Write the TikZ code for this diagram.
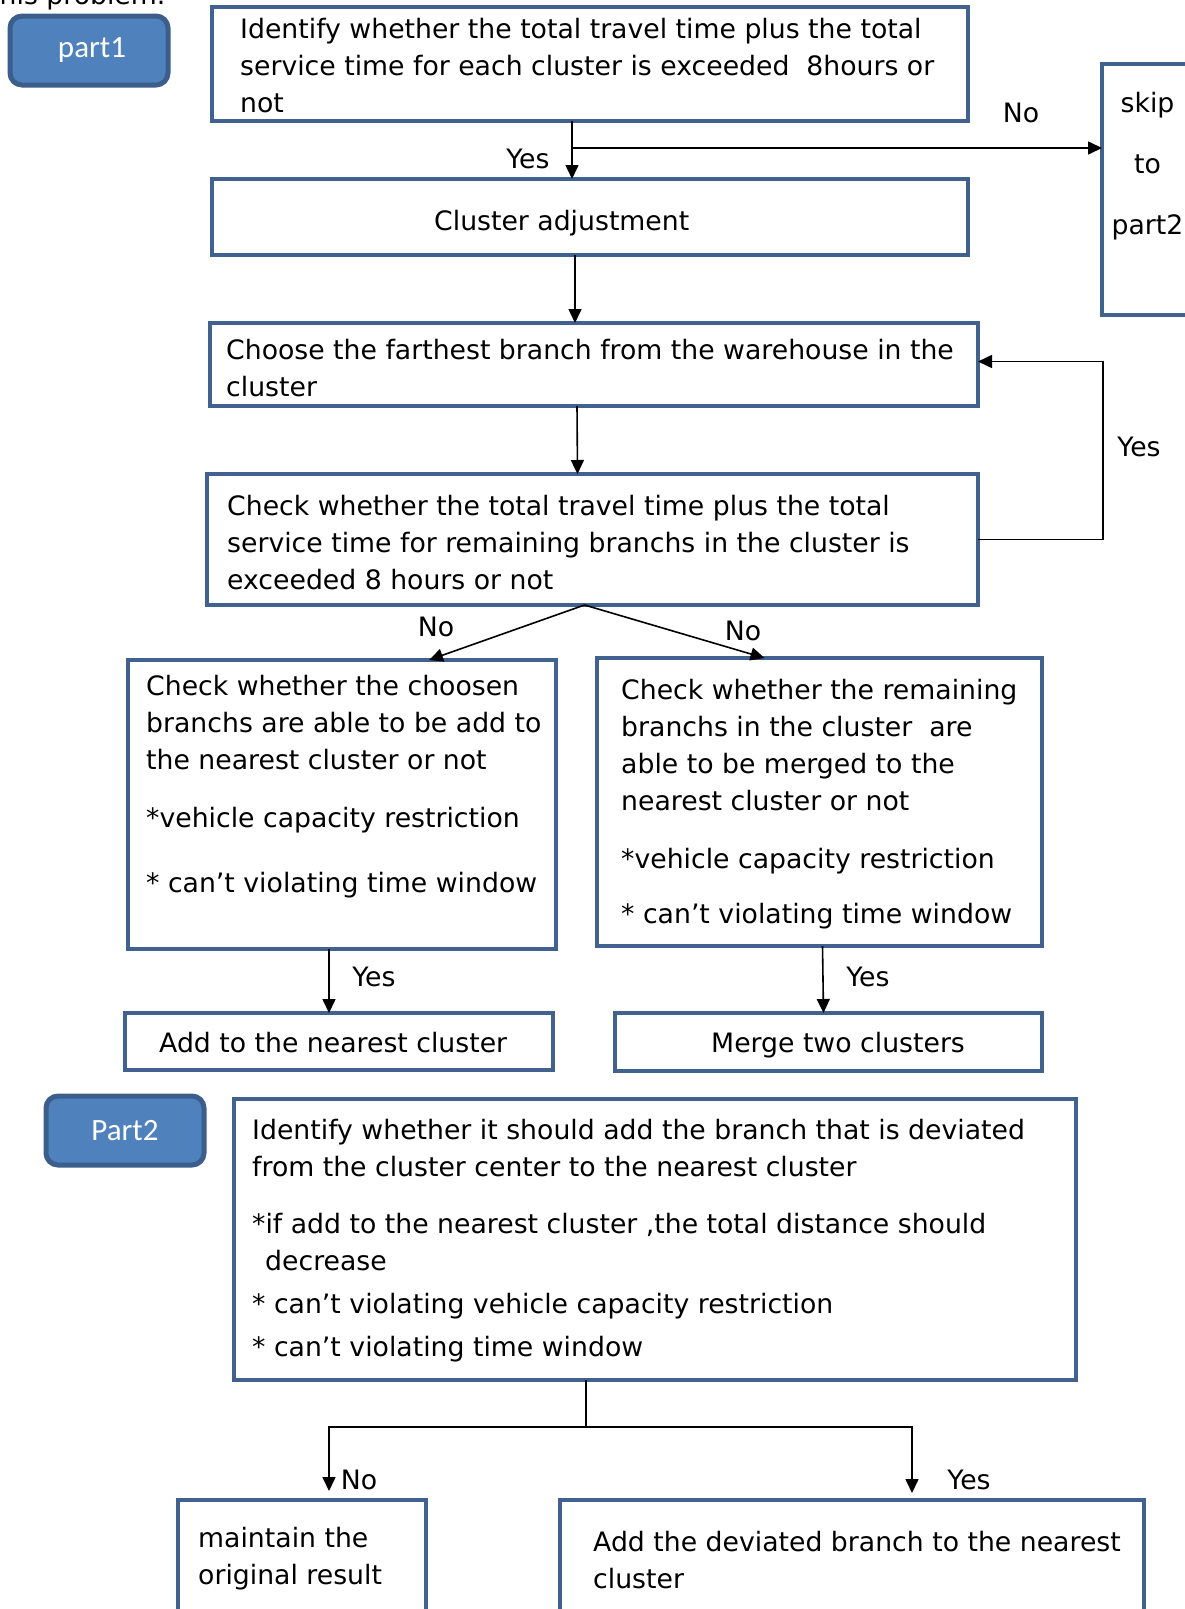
\documentclass[tikz,border=0pt]{standalone}
\usepackage{fontspec}
\setmainfont{DejaVu Sans}
\newfontfamily\partfont{Carlito}
\usetikzlibrary{positioning,arrows.meta}

\definecolor{boxblue}{HTML}{41618F}
\definecolor{partblue}{HTML}{4F81BD}
\definecolor{partedge}{HTML}{3B5E8C}

\tikzset{
  stepbox/.style={draw=boxblue, line width=4pt, rectangle, anchor=north west, inner sep=0pt, outer sep=0pt},
  parttag/.style={draw=partedge, fill=partblue, line width=5pt, rounded corners=12pt, text=white,
    minimum width=158pt, minimum height=69pt, font=\partfont\fontsize{31}{37}\selectfont},
  boxtext/.style={anchor=north west, align=left, inner sep=0pt, font=\fontsize{26.7}{37}\selectfont,
    execute at begin node={\rule{0pt}{26pt}}},
  lbl/.style={inner sep=0pt, font=\fontsize{26.7}{37}\selectfont},
  flow/.style={-{Triangle[length=14pt,width=13pt]}, line width=1.6pt},
  link/.style={line width=1.6pt},
}

\begin{document}
\begin{tikzpicture}[x=1pt,y=-1pt]

\path[fill=white, use as bounding box] (0,0) rectangle (1185,1609);

\node[lbl, anchor=base west] (intro) at (-11,4) {this problem.};

% part 1
\node[parttag] (part1) at (89,50.5) {\raisebox{-3pt}{part1}\hspace*{-6pt}};

\node[stepbox, minimum width=756pt, minimum height=114pt] (identify) at (212,7) {};
\node[boxtext] (identifytxt) at ([shift={(28pt,-11pt)}]identify.north west)
  {Identify whether the total travel time plus the total\\
   service time for each cluster is exceeded\ \ 8hours or\\
   not};

\node[stepbox, minimum width=95pt, minimum height=251pt] (skip) at (1102,64) {};
\node[boxtext, anchor=north, align=center, font=\fontsize{26.7}{61}\selectfont] (skiptxt)
  at ([shift={(-2pt,-28pt)}]skip.north) {skip\\to\\part2};

\node[stepbox, minimum width=756pt, minimum height=76pt] (adjust) at (212,179) {};
\node[boxtext] (adjusttxt) at ([shift={(222pt,-25pt)}]adjust.north west) {Cluster adjustment};

\node[stepbox, minimum width=768pt, minimum height=83pt] (farthest) at (210,323) {};
\node[boxtext] (farthesttxt) at ([shift={(16pt,-16pt)}]farthest.north west)
  {Choose the farthest branch from the warehouse in the\\
   cluster};

\node[stepbox, minimum width=771pt, minimum height=131pt] (check) at (207,474) {};
\node[boxtext] (checktxt) at ([shift={(20pt,-21pt)}]check.north west)
  {Check whether the total travel time plus the total\\
   service time for remaining branchs in the cluster is\\
   exceeded 8 hours or not};

\node[stepbox, minimum width=428pt, minimum height=289pt] (addchk) at (128,660) {};
\node[boxtext] (addchktxt) at ([shift={(18pt,-15pt)}]addchk.north west)
  {Check whether the choosen\\
   branchs are able to be add to\\
   the nearest cluster or not\\[21pt]
   *vehicle capacity restriction\\[28pt]
   * can’t violating time window};

\node[stepbox, minimum width=445pt, minimum height=288pt] (mergechk) at (597,658) {};
\node[boxtext] (mergechktxt) at ([shift={(24pt,-21pt)}]mergechk.north west)
  {Check whether the remaining\\
   branchs in the cluster\ \ are\\
   able to be merged to the\\
   nearest cluster or not\\[21pt]
   *vehicle capacity restriction\\[18pt]
   * can’t violating time window};

\node[stepbox, minimum width=428pt, minimum height=57pt] (addnear) at (125,1013) {};
\node[boxtext] (addneartxt) at ([shift={(34pt,-13pt)}]addnear.north west) {Add to the nearest cluster};

\node[stepbox, minimum width=427pt, minimum height=58pt] (merge) at (615,1013) {};
\node[boxtext] (mergetxt) at ([shift={(96pt,-13pt)}]merge.north west) {Merge two clusters};

% part 2
\node[parttag] (part2) at (125,1130.5) {Part2};

\node[stepbox, minimum width=842pt, minimum height=281pt] (deviate) at (234,1099) {};
\node[boxtext] (deviatetxt) at ([shift={(18pt,-20pt)}]deviate.north west)
  {Identify whether it should add the branch that is deviated\\
   from the cluster center to the nearest cluster\\[20pt]
   *if add to the nearest cluster ,the total distance should\\
   \hspace*{13pt}decrease\\[6pt]
   * can’t violating vehicle capacity restriction\\[6pt]
   * can’t violating time window};

\node[stepbox, minimum width=248pt, minimum height=140pt] (keep) at (178,1500) {};
\node[boxtext] (keeptxt) at ([shift={(20pt,-27pt)}]keep.north west)
  {maintain the\\
   original result};

\node[stepbox, minimum width=584pt, minimum height=140pt] (addbranch) at (560,1500) {};
\node[boxtext] (addbranchtxt) at ([shift={(33pt,-31pt)}]addbranch.north west)
  {Add the deviated branch to the nearest\\
   cluster};

% connectors
\coordinate (split) at (572,148);
\draw[link] (identify.south -| split) -- (split);
\draw[flow] (split) -- (split |- adjust.north);
\draw[flow] (split) -- (split -| skip.west);
\node[lbl] (yes1) at (528,159) {Yes};
\node[lbl] (no1) at (1021,113) {No};

\draw[flow] ([xshift=-15pt]adjust.south) -- ([xshift=-19pt]farthest.north);
\draw[flow] ([xshift=-17pt]farthest.south) -- ([xshift=-15pt]check.north);

\coordinate (loop) at (1103,0);
\draw[flow] (check.east) -- (check.east -| loop) |- ([yshift=3pt]farthest.east);
\node[lbl] (yes2) at (1139,447) {Yes};

\coordinate (fork) at ([xshift=-8pt]check.south);
\draw[flow] (fork) -- ([xshift=87pt]addchk.north);
\draw[flow] (fork) -- ([xshift=-55pt]mergechk.north);
\node[lbl] (no2) at (436,627) {No};
\node[lbl] (no3) at (743,631) {No};

\draw[flow] ([xshift=-13pt]addchk.south) -- ([xshift=-10pt]addnear.north);
\draw[flow] ([xshift=3pt]mergechk.south) -- ([xshift=-5pt]merge.north);
\node[lbl] (yes3) at (374,977) {Yes};
\node[lbl] (yes4) at (868,977) {Yes};

\draw[link] ([xshift=-69pt]deviate.south) -- ++(0pt,-47pt) coordinate (join);
\draw[flow, shorten >=9pt] (join) -| ([xshift=27pt]keep.north);
\draw[flow, shorten >=7pt] (join) -| ([xshift=60pt]addbranch.north);
\node[lbl] (no4) at (359,1480) {No};
\node[lbl] (yes5) at (969,1480) {Yes};

\end{tikzpicture}
\end{document}
